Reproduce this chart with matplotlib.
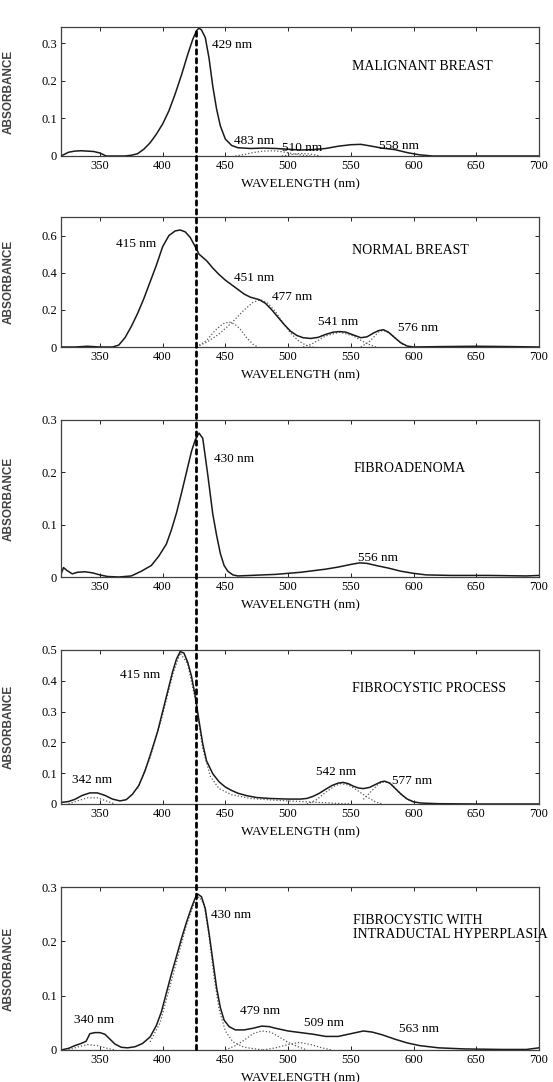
"""Absorption spectra of breast tissue types (five stacked panels)."""

import matplotlib

matplotlib.use("Agg")
import matplotlib.pyplot as plt
from matplotlib.patches import ConnectionPatch
from matplotlib.ticker import FuncFormatter, MultipleLocator

# ---------------------------------------------------------------- data
MALIGNANT_WL = [319, 325, 330, 335, 340, 345, 350, 355, 360, 370, 375, 380, 385, 390,
                395, 400, 405, 410, 415, 420, 424, 427, 429, 431, 434, 437, 440, 443,
                446, 450, 455, 460, 470, 480, 490, 500, 510, 520, 530, 540, 550, 558,
                565, 575, 585, 595, 605, 615, 640, 670, 700]
MALIGNANT_ABS = [0.0, 0.01, 0.013, 0.014, 0.013, 0.012, 0.008, 0.0, 0.0, 0.0, 0.002,
                 0.006, 0.018, 0.035, 0.058, 0.085, 0.12, 0.165, 0.215, 0.27, 0.31,
                 0.333, 0.34, 0.335, 0.315, 0.26, 0.185, 0.125, 0.08, 0.045, 0.028,
                 0.022, 0.02, 0.021, 0.02, 0.018, 0.016, 0.017, 0.02, 0.026, 0.03,
                 0.031, 0.027, 0.021, 0.017, 0.009, 0.003, 0.0, 0.0, 0.0, 0.0]
MALIGNANT_COMP = [
    ([458, 465, 472, 480, 488, 496, 504, 512, 518],
     [0.0, 0.004, 0.009, 0.013, 0.014, 0.011, 0.006, 0.002, 0.0]),
    ([495, 503, 510, 518, 526],
     [0.0, 0.004, 0.007, 0.005, 0.0]),
]
MALIGNANT_PEAKS = ["429 nm", "483 nm", "510 nm", "558 nm"]

NORMAL_WL = [319, 330, 340, 350, 360, 365, 370, 375, 380, 385, 390, 395, 400, 405,
             410, 414, 418, 422, 426, 429, 435, 440, 445, 450, 455, 460, 465, 470,
             477, 482, 487, 492, 497, 502, 507, 512, 518, 524, 530, 536, 541, 546,
             552, 558, 563, 568, 572, 576, 580, 585, 590, 595, 600, 620, 650, 680, 700]
NORMAL_ABS = [0.0, 0.0, 0.004, 0.0, 0.0, 0.01, 0.05, 0.11, 0.18, 0.26, 0.35, 0.44,
              0.54, 0.6, 0.625, 0.63, 0.62, 0.59, 0.54, 0.5, 0.465, 0.425, 0.39, 0.36,
              0.335, 0.31, 0.285, 0.268, 0.255, 0.235, 0.2, 0.16, 0.12, 0.085, 0.062,
              0.05, 0.046, 0.052, 0.068, 0.08, 0.083, 0.08, 0.065, 0.05, 0.055, 0.075,
              0.088, 0.093, 0.08, 0.05, 0.022, 0.005, 0.0, 0.002, 0.004, 0.002, 0.0]
NORMAL_COMP = [
    ([427, 435, 442, 448, 453, 458, 462, 467, 472, 476],
     [0.0, 0.035, 0.09, 0.125, 0.135, 0.12, 0.095, 0.05, 0.015, 0.0]),
    ([427, 435, 445, 455, 465, 472, 478, 484, 490, 496, 502, 508, 514, 520],
     [0.0, 0.025, 0.07, 0.13, 0.2, 0.24, 0.255, 0.235, 0.19, 0.13, 0.075, 0.035,
      0.01, 0.0]),
    ([512, 520, 530, 541, 552, 562, 570],
     [0.0, 0.02, 0.06, 0.08, 0.06, 0.02, 0.0]),
    ([558, 565, 572, 576, 582, 590, 596],
     [0.0, 0.03, 0.08, 0.09, 0.07, 0.02, 0.0]),
]
NORMAL_PEAKS = ["415 nm", "451 nm", "477 nm", "541 nm", "576 nm"]

FIBROADENOMA_WL = [319, 321, 324, 328, 332, 338, 344, 350, 356, 365, 375, 383, 391,
                   397, 403, 407, 411, 415, 419, 423, 426, 429, 432, 436, 440, 443,
                   446, 449, 452, 456, 460, 470, 480, 490, 500, 510, 520, 530, 540,
                   550, 557, 563, 570, 580, 590, 600, 610, 630, 660, 690, 700]
FIBROADENOMA_ABS = [0.005, 0.018, 0.012, 0.006, 0.009, 0.01, 0.008, 0.004, 0.001,
                    0.0, 0.002, 0.011, 0.022, 0.04, 0.063, 0.09, 0.122, 0.16, 0.2,
                    0.24, 0.262, 0.275, 0.265, 0.195, 0.12, 0.08, 0.045, 0.022, 0.011,
                    0.004, 0.002, 0.003, 0.004, 0.005, 0.007, 0.009, 0.012, 0.015,
                    0.019, 0.024, 0.027, 0.026, 0.022, 0.017, 0.011, 0.007, 0.004,
                    0.003, 0.003, 0.002, 0.003]
FIBROADENOMA_COMP = []
FIBROADENOMA_PEAKS = ["430 nm", "556 nm"]

FIBROCYSTIC_WL = [319, 325, 330, 336, 342, 348, 354, 360, 366, 371, 376, 381, 386,
                  391, 396, 400, 404, 408, 411, 414, 417, 420, 423, 426, 429, 432,
                  435, 440, 445, 450, 455, 460, 467, 475, 485, 500, 510, 515, 520,
                  525, 530, 535, 540, 544, 548, 552, 556, 560, 565, 570, 574, 577,
                  581, 585, 590, 595, 600, 606, 620, 650, 700]
FIBROCYSTIC_ABS = [0.005, 0.008, 0.015, 0.028, 0.036, 0.036, 0.028, 0.016, 0.01,
                   0.014, 0.032, 0.06, 0.108, 0.17, 0.235, 0.3, 0.365, 0.43, 0.47,
                   0.495, 0.49, 0.46, 0.415, 0.35, 0.27, 0.195, 0.14, 0.098, 0.072,
                   0.055, 0.044, 0.035, 0.027, 0.021, 0.018, 0.016, 0.016, 0.018,
                   0.025, 0.035, 0.048, 0.06, 0.068, 0.07, 0.066, 0.058, 0.052, 0.05,
                   0.054, 0.064, 0.072, 0.074, 0.068, 0.052, 0.032, 0.016, 0.007,
                   0.003, 0.001, 0.0, 0.0]
FIBROCYSTIC_COMP = [
    ([325, 332, 340, 348, 355, 362],
     [0.0, 0.01, 0.02, 0.02, 0.01, 0.0]),
    ([380, 390, 400, 408, 414, 420, 426, 432, 438, 445, 455, 470, 490, 510, 530, 550],
     [0.05, 0.15, 0.29, 0.42, 0.49, 0.455, 0.34, 0.18, 0.09, 0.05, 0.03, 0.018,
      0.012, 0.008, 0.004, 0.0]),
    ([515, 522, 530, 537, 542, 548, 555, 562, 570, 575],
     [0.0, 0.012, 0.038, 0.058, 0.066, 0.062, 0.045, 0.025, 0.006, 0.0]),
    ([560, 566, 572, 577, 582, 588, 594, 600],
     [0.015, 0.04, 0.065, 0.073, 0.065, 0.04, 0.018, 0.005]),
]
FIBROCYSTIC_PEAKS = ["342 nm", "415 nm", "542 nm", "577 nm"]

HYPERPLASIA_WL = [319, 325, 330, 335, 339, 342, 346, 350, 354, 358, 362, 367, 372,
                  378, 384, 390, 395, 399, 403, 407, 411, 415, 419, 423, 426, 428,
                  431, 434, 437, 440, 443, 446, 449, 453, 458, 465, 472, 479, 485,
                  490, 500, 510, 520, 530, 540, 550, 560, 567, 575, 585, 595, 605,
                  620, 640, 670, 690, 700]
HYPERPLASIA_ABS = [0.0, 0.003, 0.008, 0.012, 0.016, 0.03, 0.032, 0.032, 0.029, 0.02,
                   0.011, 0.005, 0.004, 0.006, 0.012, 0.024, 0.045, 0.07, 0.105, 0.14,
                   0.172, 0.205, 0.235, 0.262, 0.28, 0.287, 0.282, 0.26, 0.215, 0.165,
                   0.115, 0.078, 0.055, 0.043, 0.037, 0.037, 0.04, 0.044, 0.043, 0.04,
                   0.035, 0.032, 0.029, 0.025, 0.025, 0.03, 0.035, 0.033, 0.028, 0.02,
                   0.013, 0.008, 0.004, 0.002, 0.001, 0.001, 0.004]
HYPERPLASIA_COMP = [
    ([325, 333, 340, 348, 356, 362],
     [0.0, 0.006, 0.01, 0.008, 0.003, 0.0]),
    ([390, 398, 405, 412, 419, 425, 429, 433, 437, 441, 445, 450, 456, 465, 480],
     [0.015, 0.05, 0.11, 0.17, 0.23, 0.27, 0.282, 0.268, 0.21, 0.135, 0.075, 0.035,
      0.015, 0.005, 0.0]),
    ([450, 458, 465, 472, 479, 486, 493, 500, 508, 515],
     [0.0, 0.008, 0.018, 0.03, 0.035, 0.033, 0.024, 0.014, 0.006, 0.0]),
    ([480, 490, 500, 509, 518, 527, 535],
     [0.0, 0.004, 0.01, 0.014, 0.01, 0.004, 0.0]),
]
HYPERPLASIA_PEAKS = ["340 nm", "430 nm", "479 nm", "509 nm", "563 nm"]

TITLES = ["MALIGNANT BREAST", "NORMAL BREAST", "FIBROADENOMA",
          "FIBROCYSTIC PROCESS", "FIBROCYSTIC WITH\nINTRADUCTAL HYPERPLASIA"]
X_TICKS = [350, 400, 450, 500, 550, 600, 650, 700]
MARKER_NM = 427

# ---------------------------------------------------------------- layout
FIG_W, FIG_H = 553, 1082
AX_LEFT, AX_RIGHT = 61, 539
# (top px, bottom px, ymax, y tick step)
PANEL_BOX = [(27, 156, 0.343, 0.1), (217, 347, 0.70, 0.2), (420, 577, 0.30, 0.1),
             (650, 804, 0.50, 0.1), (887, 1050, 0.30, 0.1)]
# label anchor (wavelength, absorbance) for each peak label
PEAK_POS = [
    [(439, 0.296), (457, 0.040), (495, 0.022), (572.6, 0.026)],
    [(363, 0.555), (456.6, 0.372), (487, 0.270), (523.5, 0.133), (587.6, 0.101)],
    [(440.6, 0.225), (555.8, 0.037)],
    [(328, 0.078), (366, 0.419), (522, 0.105), (582.6, 0.076)],
    [(329.5, 0.055), (438.6, 0.249), (461.6, 0.071), (512.3, 0.049), (588.2, 0.039)],
]
TITLE_POS = [(0.756, 0.692, "center"), (0.731, 0.745, "center"),
             (0.729, 0.688, "center"), (0.771, 0.751, "center"),
             (0.611, 0.752, "left")]

SERIF = "Liberation Serif"
SANS = "Liberation Sans"


def _ytick_fmt(v, _pos):
    return "0" if abs(v) < 1e-9 else f"{v:.1f}"


def main():
    plt.rcParams["font.family"] = SERIF
    fig = plt.figure(figsize=(FIG_W / 100, FIG_H / 100), dpi=100)

    panels = [
        (MALIGNANT_WL, MALIGNANT_ABS, MALIGNANT_COMP, MALIGNANT_PEAKS),
        (NORMAL_WL, NORMAL_ABS, NORMAL_COMP, NORMAL_PEAKS),
        (FIBROADENOMA_WL, FIBROADENOMA_ABS, FIBROADENOMA_COMP, FIBROADENOMA_PEAKS),
        (FIBROCYSTIC_WL, FIBROCYSTIC_ABS, FIBROCYSTIC_COMP, FIBROCYSTIC_PEAKS),
        (HYPERPLASIA_WL, HYPERPLASIA_ABS, HYPERPLASIA_COMP, HYPERPLASIA_PEAKS),
    ]

    axes = []
    for i, (wl, ab, comps, peaks) in enumerate(panels):
        top, bot, ymax, ystep = PANEL_BOX[i]
        h_px = bot - top
        ax = fig.add_axes([AX_LEFT / FIG_W, 1 - bot / FIG_H,
                           (AX_RIGHT - AX_LEFT) / FIG_W, h_px / FIG_H])
        for cwl, cab in comps:
            ax.plot(cwl, cab, color="0.35", linewidth=0.9, linestyle=(0, (1, 1.6)))
        ax.plot(wl, ab, color="0.1", linewidth=1.1)

        ax.set_xlim(319, 700)
        ax.set_ylim(0, ymax)
        ax.set_xticks(X_TICKS)
        ax.yaxis.set_major_locator(MultipleLocator(ystep))
        ax.yaxis.set_major_formatter(FuncFormatter(_ytick_fmt))
        ax.tick_params(direction="in", length=3, width=0.6, top=True, right=True,
                       labelsize=9, pad=3)
        for sp in ax.spines.values():
            sp.set_linewidth(0.9)
            sp.set_color("0.25")

        ax.set_xlabel("WAVELENGTH (nm)", fontsize=9.5)
        ax.xaxis.set_label_coords(0.5, -22 / h_px)
        ax.set_ylabel("ABSORBANCE", fontsize=8.5, family=SANS, fontweight="bold",
                      color="0.25")
        ax.yaxis.set_label_coords(-46 / (AX_RIGHT - AX_LEFT), 0.5)

        for label, (px, py) in zip(peaks, PEAK_POS[i]):
            ax.text(px, py, label, fontsize=9.5, ha="left", va="center")
        tx, ty, ha = TITLE_POS[i]
        ax.text(tx, ty, TITLES[i], transform=ax.transAxes, fontsize=10,
                ha=ha, va="center", linespacing=1.15, clip_on=False)
        axes.append(ax)

    # dashed marker running through all five panels
    link = ConnectionPatch(xyA=(MARKER_NM, 0.33), coordsA=axes[0].transData,
                           xyB=(MARKER_NM, 0.0), coordsB=axes[-1].transData,
                           color="black", linewidth=2.0, linestyle=(0, (1.6, 1.6)),
                           zorder=10)
    fig.add_artist(link)

    fig.savefig("out.png", dpi=100)
    plt.close(fig)


if __name__ == "__main__":
    main()
